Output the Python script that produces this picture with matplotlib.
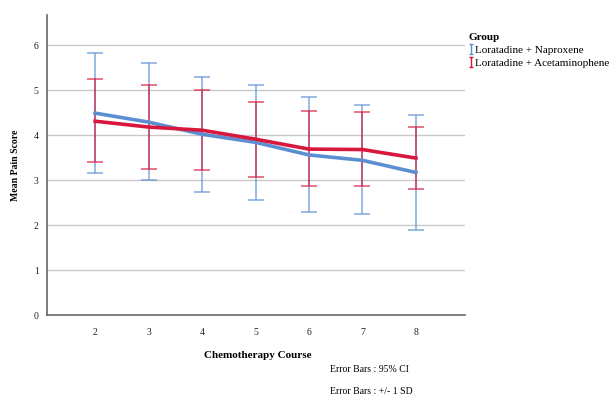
import numpy as np
import matplotlib.pyplot as plt
from matplotlib.lines import Line2D
from matplotlib.path import Path

courses = [2, 3, 4, 5, 6, 7, 8]

# Loratadine + Naproxene
nap_mean = [4.49, 4.29, 4.02, 3.84, 3.56, 3.44, 3.17]
nap_low = [3.16, 3.00, 2.73, 2.56, 2.29, 2.24, 1.88]
nap_high = [5.82, 5.60, 5.30, 5.11, 4.84, 4.67, 4.44]

# Loratadine + Acetaminophene
ace_mean = [4.31, 4.18, 4.11, 3.91, 3.69, 3.68, 3.49]
ace_low = [3.40, 3.24, 3.22, 3.07, 2.87, 2.86, 2.80]
ace_high = [5.24, 5.11, 5.01, 4.74, 4.53, 4.51, 4.18]

BLUE = "#5b8fd2"
RED = "#d9173d"

plt.rcParams["font.family"] = ["Liberation Serif", "DejaVu Serif"]

fig = plt.figure(figsize=(6.13, 3.97), dpi=100)
ax = fig.add_axes([0.0767, 0.2065, 0.682, 0.7555])

for mean, lo, hi, col in [(nap_mean, nap_low, nap_high, BLUE),
                          (ace_mean, ace_low, ace_high, RED)]:
    mean = np.array(mean)
    yerr = [mean - np.array(lo), np.array(hi) - mean]
    ax.errorbar(courses, mean, yerr=yerr, fmt="none", ecolor=col,
                elinewidth=1.2, capsize=6, capthick=1.2, alpha=0.7, zorder=3)
    ax.plot(courses, mean, color=col, linewidth=2.6, zorder=4)

ax.set_xlim(1.1, 8.92)
ax.set_ylim(0, 6.67)
ax.set_xticks(courses)
ax.set_yticks(range(0, 7))
ax.tick_params(length=0, labelsize=7, colors="#222222")
ax.tick_params(axis="x", pad=9)
ax.tick_params(axis="y", pad=6)
for y in range(1, 7):
    ax.axhline(y, color="#c8c8c8", linewidth=1, zorder=1)
for s in ["top", "right"]:
    ax.spines[s].set_visible(False)
for s in ["left", "bottom"]:
    ax.spines[s].set_color("#666666")
    ax.spines[s].set_linewidth(1.2)

ax.set_ylabel("Mean Pain Score", fontsize=7, fontweight="bold", labelpad=10)
fig.text(0.421, 0.105, "Chemotherapy Course", fontsize=8, fontweight="bold",
         ha="center", va="center")
fig.text(0.538, 0.07, "Error Bars : 95% CI", fontsize=7, ha="left", va="center")
fig.text(0.538, 0.015, "Error Bars : +/- 1 SD", fontsize=7, ha="left", va="center")

ibar = Path([(-0.25, -0.5), (0.25, -0.5), (0, -0.5), (0, 0.5), (-0.25, 0.5), (0.25, 0.5)],
            [Path.MOVETO, Path.LINETO, Path.MOVETO, Path.LINETO, Path.MOVETO, Path.LINETO])
handles = [Line2D([], [], color=col, marker=ibar, linestyle="none", markersize=7,
                  markerfacecolor="none", markeredgewidth=1.0)
           for col in (BLUE, RED)]
leg = fig.legend(handles, ["Loratadine + Naproxene", "Loratadine + Acetaminophene"],
                 title="Group", loc="upper left", bbox_to_anchor=(0.765, 0.917),
                 frameon=False, fontsize=8, handlelength=0.35, handletextpad=0.15,
                 labelspacing=0.3, borderaxespad=0, borderpad=0)
leg.get_title().set_fontweight("bold")
leg.get_title().set_fontsize(8)
leg._legend_box.align = "left"

fig.savefig("out.png", dpi=100)
